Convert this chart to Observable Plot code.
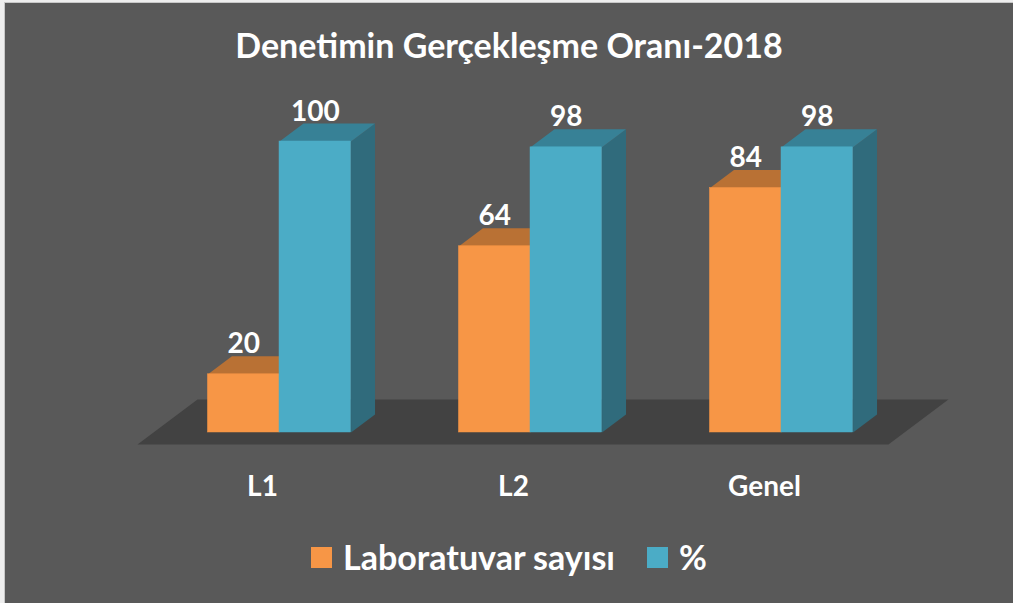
<!DOCTYPE html>
<html>
<head>
<meta charset="utf-8">
<script src="https://cdn.jsdelivr.net/npm/d3@7"></script>
<script src="https://cdn.jsdelivr.net/npm/@observablehq/plot@0.6"></script>
<style>
  html, body { margin: 0; padding: 0; background: #eeeeee; }
  #wrap { position: relative; width: 1013px; height: 603px; overflow: hidden; }
  #chart { position: absolute; left: 4px; top: 2px; width: 1009px; height: 601px; background: #595959; border-left: 1px solid #c8c8c8; border-top: 1px solid #c8c8c8; }
  #title { position: absolute; left: 0; top: 25px; width: 1018px; text-align: center; font: bold 34px/40px Lato, "Open Sans", sans-serif; color: #ffffff; }
  #legend { position: absolute; left: 0; top: 537px; width: 1018px; display: flex; justify-content: center; align-items: center; font: bold 34px/40px Lato, "Open Sans", sans-serif; color: #ffffff; }
  .sw { display: inline-block; width: 21px; height: 21px; margin-right: 11px; }
  .item { display: flex; align-items: center; margin: 0 16px; }
  #plot { position: absolute; left: 0; top: 0; }
</style>
</head>
<body>
<div id="wrap">
  <div id="chart"></div>
  <div id="plot"></div>
  <div id="title"></div>
  <div id="legend"></div>
</div>
<script>
// ---- data ----
const title = "Denetimin Gerçekleşme Oranı-2018";
const categories = ["L1", "L2", "Genel"];
const seriesNames = ["Laboratuvar sayısı", "%"];
const labSayisi = [20, 64, 84];
const yuzde = [100, 98, 98];

// ---- styling ----
const colors = {
  front: ["#F79646", "#4BACC6"],
  top: ["#B97134", "#378196"],
  side: ["#B45F1E", "#306B7C"]
};
const barW = 0.285;      // bar width in group units
const DX = 0.0956;       // depth offset (x units)
const DY = 6.19;         // depth offset (y units)

const series = [labSayisi, yuzde];
const bars = [];
categories.forEach((c, i) => {
  series.forEach((vals, s) => {
    const x0 = i - barW + s * barW;
    bars.push({cat: c, i, s, x0, x1: x0 + barW, v: vals[i]});
  });
});

// faces as polygons
function topFace(b) {
  return [[b.x0, b.v], [b.x1, b.v], [b.x1 + DX, b.v + DY], [b.x0 + DX, b.v + DY]];
}
function sideFace(b) {
  return [[b.x1, 0], [b.x1, b.v], [b.x1 + DX, b.v + DY], [b.x1 + DX, DY]];
}
function polys(list, fn) {
  const out = [];
  list.forEach((b, k) => fn(b).forEach(([x, y]) => out.push({id: k, x, y})));
  return out;
}

// floor (derived from group extents)
const fl = {left: -barW * 1.985, right: categories.length - 1 + barW * 1.495, front: -4.12, dx: 0.239, dy: 15.46};
const floor = [
  {id: 0, x: fl.left, y: fl.front},
  {id: 0, x: fl.left + fl.dx, y: fl.front + fl.dy},
  {id: 0, x: fl.right + fl.dx, y: fl.front + fl.dy},
  {id: 0, x: fl.right, y: fl.front}
];

const marks = [Plot.line(floor, {x: "x", y: "y", z: "id", fill: "#424242", stroke: "none", curve: "linear-closed"})];
for (let s = 0; s < 2; s++) {
  const bs = bars.filter(b => b.s === s);
  marks.push(Plot.line(polys(bs, sideFace), {x: "x", y: "y", z: "id", fill: colors.side[s], stroke: "none", curve: "linear-closed"}));
  marks.push(Plot.line(polys(bs, topFace), {x: "x", y: "y", z: "id", fill: colors.top[s], stroke: "none", curve: "linear-closed"}));
  marks.push(Plot.rectY(bs, {x1: "x0", x2: "x1", y1: 0, y2: "v", fill: colors.front[s], stroke: colors.front[s], strokeWidth: 0.5, inset: 0}));
}
marks.push(Plot.text(bars, {
  x: b => (b.x0 + b.x1) / 2, y: "v", text: b => String(b.v),
  dy: -21, lineAnchor: "bottom", fill: "#ffffff", fontSize: 28, fontWeight: "bold"
}));
marks.push(Plot.axisX({
  ticks: categories.map((_, i) => i), tickFormat: i => categories[i],
  tickSize: 0, tickPadding: 0, dx: -17, dy: -2, fontSize: 28, fontWeight: "bold", fill: "#ffffff", color: "#ffffff"
}));

const chart = Plot.plot({
  width: 1013,
  height: 603,
  marginBottom: 125,
  marginTop: 0,
  marginLeft: 0,
  marginRight: 0,
  style: {background: "transparent", fontFamily: "Lato, 'Open Sans', sans-serif", color: "#ffffff"},
  x: {type: "linear", domain: [0, categories.length - 1], range: [279, 781], axis: null},
  y: {domain: [0, 100], range: [432, 141], axis: null},
  marks
});
document.getElementById("plot").appendChild(chart);

document.getElementById("title").textContent = title;
const leg = document.getElementById("legend");
seriesNames.forEach((n, s) => {
  const it = document.createElement("span");
  it.className = "item";
  const sw = document.createElement("span");
  sw.className = "sw";
  sw.style.background = colors.front[s];
  it.appendChild(sw);
  it.appendChild(document.createTextNode(n));
  leg.appendChild(it);
});
</script>
</body>
</html>
